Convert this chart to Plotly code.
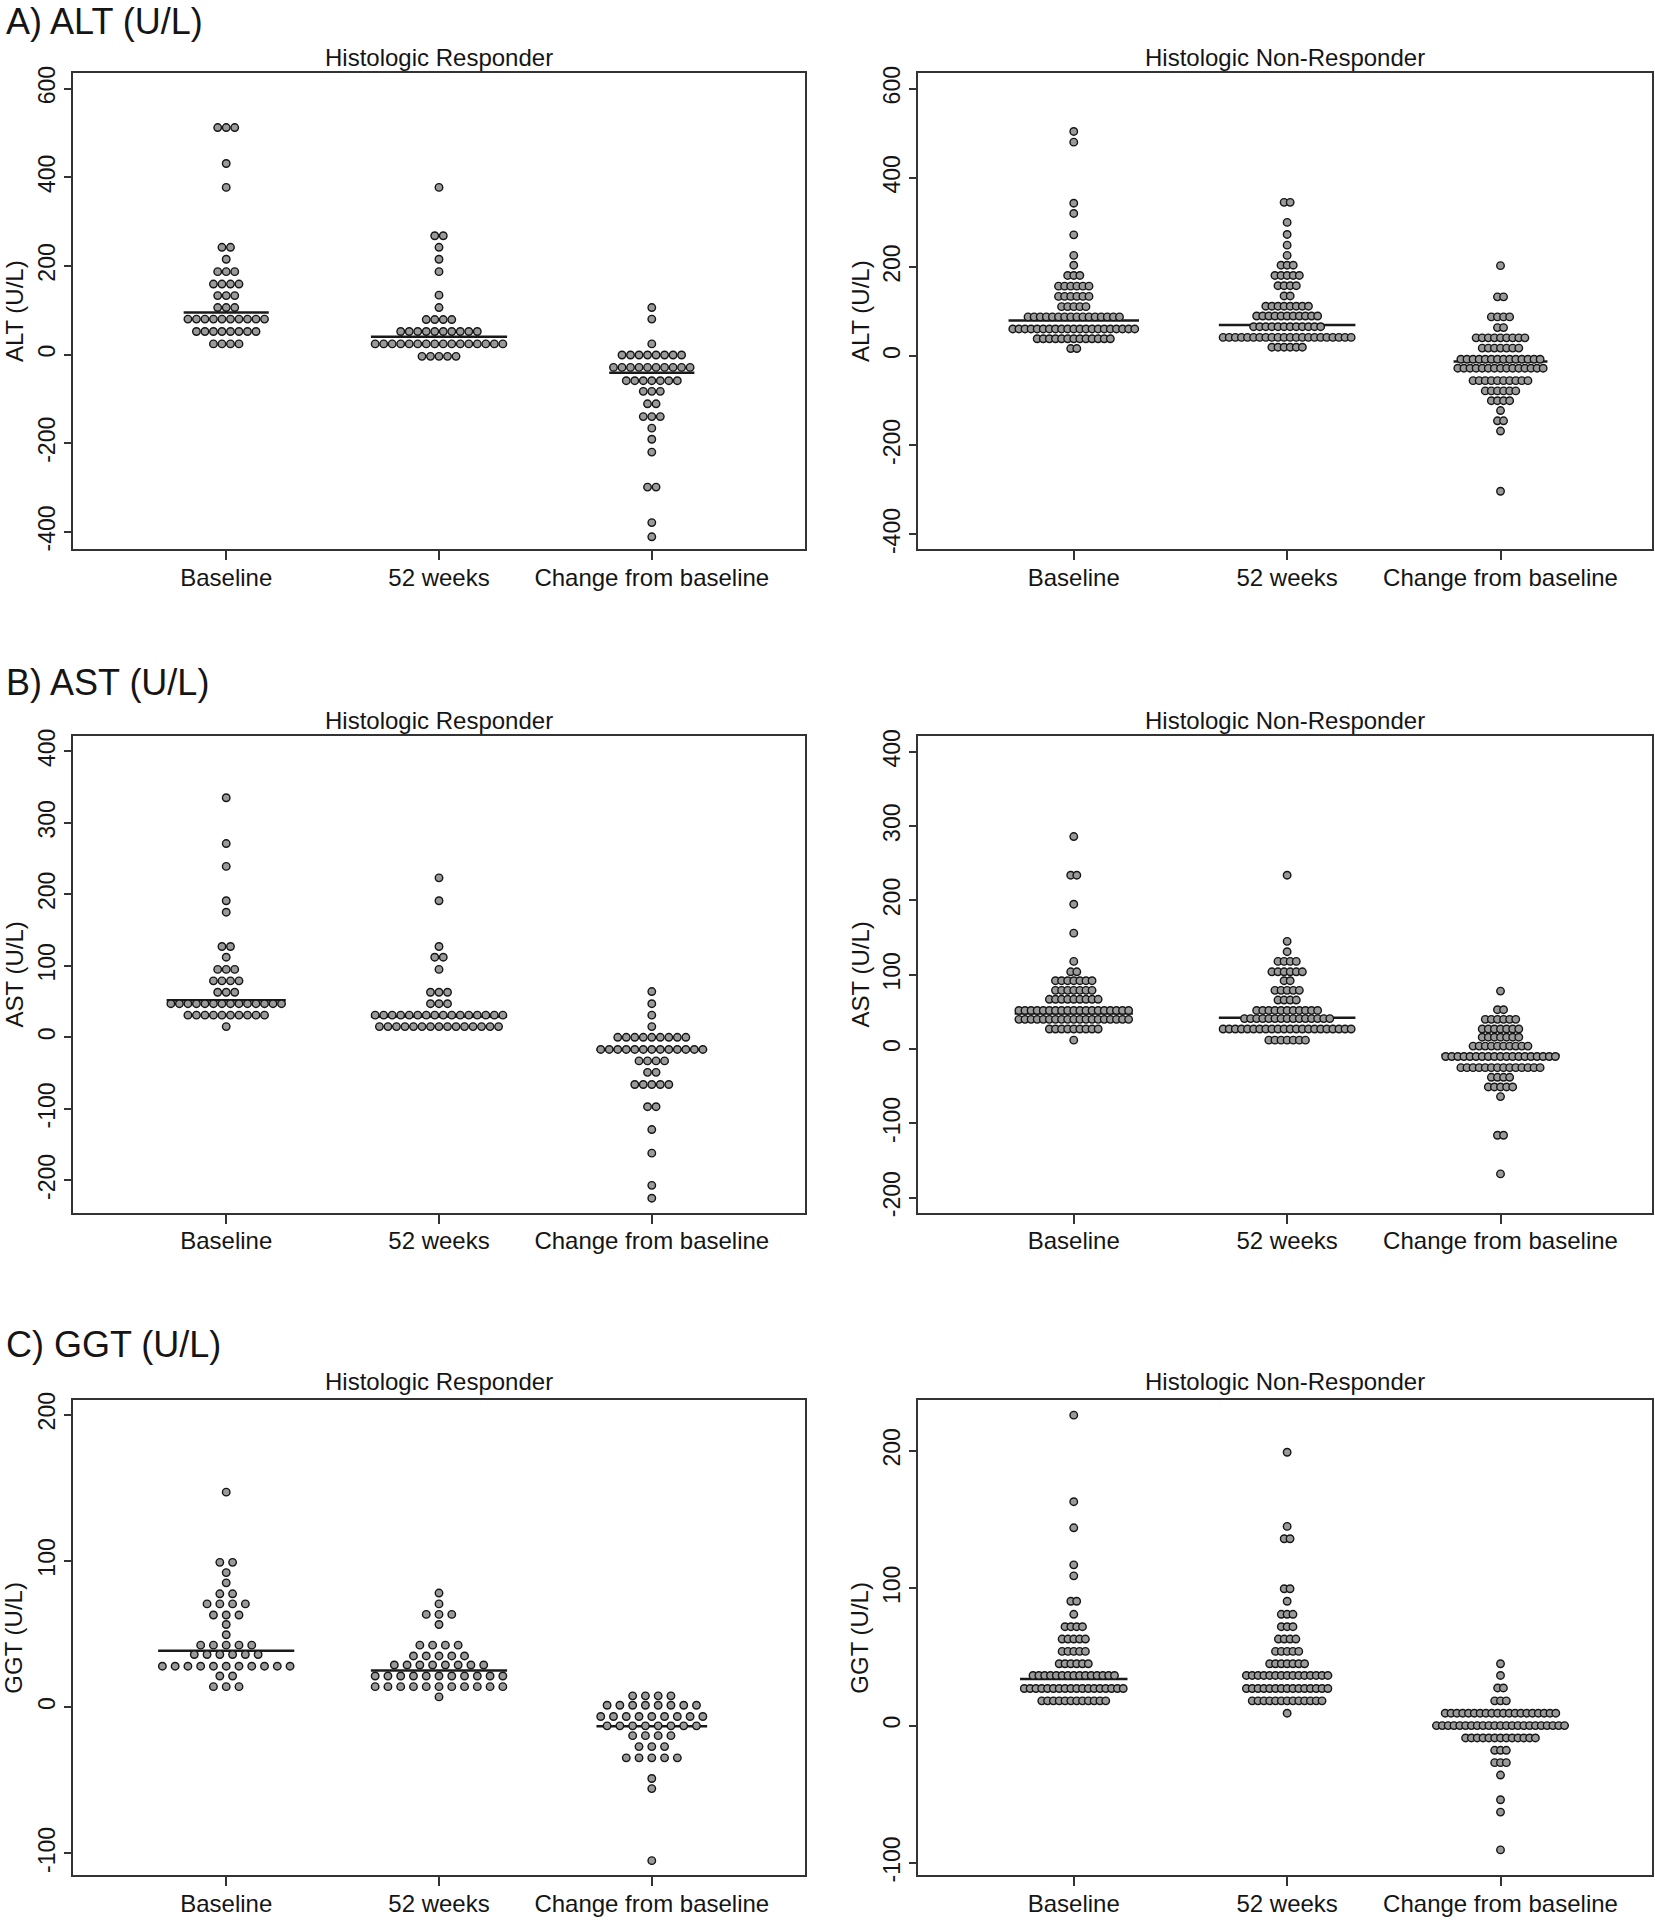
import plotly.graph_objects as go

categories = ['Baseline', '52 weeks', 'Change from baseline']

# Dot plots: each group is stored as dot-row levels (U/L) and the number of dots per row

# A) ALT - histologic responder
alt_r_base_y = [512, 431, 377, 242, 215, 187, 159, 133, 106, 80, 52, 24]
alt_r_base_n = [3, 1, 1, 2, 1, 3, 4, 3, 3, 10, 8, 4]
alt_r_wk52_y = [377, 268, 242, 215, 187, 134, 106, 79, 52, 24, -4]
alt_r_wk52_n = [1, 2, 1, 1, 1, 1, 1, 4, 10, 16, 5]
alt_r_chg_y = [106, 80, 24, -1, -29, -59, -83, -111, -140, -166, -191, -220, -299, -379, -411]
alt_r_chg_n = [1, 1, 1, 8, 10, 7, 3, 2, 3, 1, 1, 1, 2, 1, 1]
alt_r_median = [95, 40, -41]

# A) ALT - histologic non-responder
alt_n_base_y = [504, 480, 343, 320, 272, 226, 204, 181, 157, 134, 111, 88, 61, 39, 17]
alt_n_base_n = [1, 1, 1, 1, 1, 1, 1, 3, 6, 6, 5, 16, 21, 13, 2]
alt_n_wk52_y = [345, 300, 273, 249, 226, 204, 181, 158, 135, 112, 90, 66, 42, 20]
alt_n_wk52_n = [2, 1, 1, 1, 1, 3, 5, 4, 2, 8, 11, 12, 22, 6]
alt_n_chg_y = [203, 133, 88, 64, 41, 18, -7, -27, -55, -78, -100, -122, -145, -168, -303]
alt_n_chg_n = [1, 2, 4, 2, 9, 7, 14, 15, 10, 6, 4, 1, 2, 1, 1]
alt_n_median = [80, 70, -12]

# B) AST - histologic responder
ast_r_base_y = [335, 271, 239, 191, 175, 127, 112, 95, 79, 63, 47, 31, 15]
ast_r_base_n = [1, 1, 1, 1, 1, 2, 1, 3, 4, 3, 14, 10, 1]
ast_r_wk52_y = [223, 191, 127, 112, 95, 63, 47, 31, 15]
ast_r_wk52_n = [1, 1, 1, 2, 1, 3, 3, 16, 15]
ast_r_chg_y = [64, 47, 31, 15, 0, -17, -33, -49, -66, -97, -129, -162, -207, -225]
ast_r_chg_n = [1, 1, 1, 1, 9, 13, 4, 2, 5, 2, 1, 1, 1, 1]
ast_r_median = [52, 29, -17]

# B) AST - histologic non-responder
ast_n_base_y = [286, 234, 195, 156, 118, 104, 92, 79, 67, 52, 40, 27, 12]
ast_n_base_n = [1, 2, 1, 1, 1, 2, 7, 7, 9, 19, 19, 9, 1]
ast_n_wk52_y = [234, 145, 131, 118, 104, 92, 79, 66, 52, 41, 27, 12]
ast_n_wk52_n = [1, 1, 1, 4, 6, 2, 5, 4, 11, 15, 22, 7]
ast_n_chg_y = [78, 53, 40, 27, 16, 4, -10, -25, -38, -51, -64, -116, -168]
ast_n_chg_n = [1, 2, 6, 7, 7, 10, 19, 14, 4, 5, 1, 2, 1]
ast_n_median = [48, 42, -8]

# C) GGT - histologic responder
ggt_r_base_y = [147, 99, 92, 85, 77.5, 70.6, 63, 56.5, 49.5, 42.4, 36, 28, 21.3, 14]
ggt_r_base_n = [1, 2, 1, 1, 2, 4, 3, 1, 1, 5, 6, 11, 2, 3]
ggt_r_wk52_y = [78, 70.6, 63.4, 56.5, 42.4, 35, 28.8, 21.3, 14, 7]
ggt_r_wk52_n = [1, 1, 3, 1, 4, 5, 8, 11, 11, 1]
ggt_r_chg_y = [7.7, 1.3, -6.4, -12.8, -19.5, -27, -34.7, -48.8, -55.7, -105]
ggt_r_chg_n = [4, 8, 9, 8, 4, 3, 5, 1, 1, 1]
ggt_r_median = [38.5, 25, -13]

# C) GGT - histologic non-responder
ggt_n_base_y = [226, 163, 144, 117, 109, 90.5, 81, 72, 63, 54, 45, 36.5, 27, 18]
ggt_n_base_n = [1, 1, 1, 1, 1, 2, 1, 4, 5, 5, 6, 15, 18, 12]
ggt_n_wk52_y = [199, 145, 136, 99.6, 90.5, 81, 72, 63, 54, 45, 36.5, 27, 18, 9]
ggt_n_wk52_n = [1, 1, 2, 2, 1, 3, 3, 4, 5, 7, 15, 15, 13, 1]
ggt_n_chg_y = [45, 36.5, 27.4, 18, 9, 0, -9, -18, -27, -36, -54, -63, -90.5]
ggt_n_chg_n = [1, 1, 2, 3, 20, 23, 13, 3, 3, 1, 1, 1, 1]
ggt_n_median = [34, 36.5, 0]

W, H = 1655, 1920
FONT = 'Liberation Sans, Arial, sans-serif'
TXT = '#151515'
ROW_SPREAD = 0.60  # width (x units) used by the widest dot row in a panel

panels = [
    dict(groups=[(alt_r_base_y, alt_r_base_n), (alt_r_wk52_y, alt_r_wk52_n), (alt_r_chg_y, alt_r_chg_n)],
         medians=alt_r_median, yrange=[-438, 634], yticks=[-400, -200, 0, 200, 400, 600], ytitle='ALT (U/L)'),
    dict(groups=[(alt_n_base_y, alt_n_base_n), (alt_n_wk52_y, alt_n_wk52_n), (alt_n_chg_y, alt_n_chg_n)],
         medians=alt_n_median, yrange=[-432, 634], yticks=[-400, -200, 0, 200, 400, 600], ytitle='ALT (U/L)'),
    dict(groups=[(ast_r_base_y, ast_r_base_n), (ast_r_wk52_y, ast_r_wk52_n), (ast_r_chg_y, ast_r_chg_n)],
         medians=ast_r_median, yrange=[-245, 421], yticks=[-200, -100, 0, 100, 200, 300, 400], ytitle='AST (U/L)'),
    dict(groups=[(ast_n_base_y, ast_n_base_n), (ast_n_wk52_y, ast_n_wk52_n), (ast_n_chg_y, ast_n_chg_n)],
         medians=ast_n_median, yrange=[-220, 421], yticks=[-200, -100, 0, 100, 200, 300, 400], ytitle='AST (U/L)'),
    dict(groups=[(ggt_r_base_y, ggt_r_base_n), (ggt_r_wk52_y, ggt_r_wk52_n), (ggt_r_chg_y, ggt_r_chg_n)],
         medians=ggt_r_median, yrange=[-115, 210], yticks=[-100, 0, 100, 200], ytitle='GGT (U/L)'),
    dict(groups=[(ggt_n_base_y, ggt_n_base_n), (ggt_n_wk52_y, ggt_n_wk52_n), (ggt_n_chg_y, ggt_n_chg_n)],
         medians=ggt_n_median, yrange=[-109, 237], yticks=[-100, 0, 100, 200], ytitle='GGT (U/L)'),
]

# pixel frames of the plot boxes (page body margin is removed below)
col_px = [(73, 805), (918, 1652)]
row_px = [(66, 545), (734, 1214), (1403, 1882)]
col_xrange = [[0.28, 3.72], [0.27, 3.71]]

fig = go.Figure()
layout = {}

for i, p in enumerate(panels):
    r, c = divmod(i, 2)
    sfx = '' if i == 0 else str(i + 1)
    xref, yref = 'x' + sfx, 'y' + sfx

    max_n = max(max(n) for _, n in p['groups'])
    step = ROW_SPREAD / (max_n - 1)

    # median lines first so the dots sit on top
    lx, ly = [], []
    for g, ((ys, ns), med) in enumerate(zip(p['groups'], p['medians'])):
        half = (max(ns) - 1) / 2 * step + 0.02
        lx += [g + 1 - half, g + 1 + half, None]
        ly += [med, med, None]
    fig.add_trace(go.Scatter(x=lx, y=ly, mode='lines', xaxis=xref, yaxis=yref,
                             line=dict(color='#1a1a1a', width=2.5), hoverinfo='skip'))

    dx, dy = [], []
    for g, (ys, ns) in enumerate(p['groups']):
        for yv, n in zip(ys, ns):
            for j in range(n):
                dx.append(g + 1 + (j - (n - 1) / 2) * step)
                dy.append(yv)
    fig.add_trace(go.Scatter(x=dx, y=dy, mode='markers', xaxis=xref, yaxis=yref,
                             marker=dict(size=7.5, color='#9a9a9a',
                                         line=dict(color='#151515', width=1.4))))

    x0, x1 = col_px[c]
    t, b = row_px[r]
    layout['xaxis' + sfx] = dict(
        domain=[x0 / W, x1 / W], anchor=yref, range=col_xrange[c],
        tickvals=[1, 2, 3], ticktext=categories, ticks='outside', ticklen=9,
        tickwidth=1.5, tickcolor='#333', showline=True, mirror=True,
        linecolor='#333', linewidth=2, showgrid=False, zeroline=False,
        ticklabelstandoff=-3,
        tickfont=dict(size=24, color=TXT, family=FONT),
    )
    layout['yaxis' + sfx] = dict(
        domain=[1 - b / H, 1 - t / H], anchor=xref, range=p['yrange'],
        tickvals=p['yticks'], ticktext=[str(v) for v in p['yticks']],
        tickangle=-90, ticks='outside', ticklen=7, tickwidth=1.5, tickcolor='#333',
        showline=True, mirror=True, linecolor='#333', linewidth=2,
        showgrid=False, zeroline=False,
        tickfont=dict(size=23, color=TXT, family=FONT),
    )

annotations = []
row_titles = ['A) ALT (U/L)', 'B) AST (U/L)', 'C) GGT (U/L)']
row_title_y = [14, 680, 1347]
sub_y = [50, 718, 1384]
sub_titles = ['Histologic Responder', 'Histologic Non-Responder']
ytitle_x = [14, 860]

for r in range(3):
    annotations.append(dict(text=row_titles[r], x=4 / W, y=1 - row_title_y[r] / H,
                            xref='paper', yref='paper', xanchor='left', yanchor='middle',
                            showarrow=False, font=dict(size=36, color=TXT, family=FONT)))
    t, b = row_px[r]
    for c in range(2):
        x0, x1 = col_px[c]
        annotations.append(dict(text=sub_titles[c], x=(x0 + x1) / 2 / W, y=1 - sub_y[r] / H,
                                xref='paper', yref='paper', xanchor='center', yanchor='middle',
                                showarrow=False, font=dict(size=24, color=TXT, family=FONT)))
        annotations.append(dict(text=panels[r * 2 + c]['ytitle'], x=ytitle_x[c] / W,
                                y=1 - (t + b) / 2 / H, xref='paper', yref='paper',
                                xanchor='center', yanchor='middle', textangle=-90,
                                showarrow=False, font=dict(size=24, color=TXT, family=FONT)))

fig.update_layout(
    **layout,
    annotations=annotations,
    width=W, height=H,
    margin=dict(l=0, r=0, t=0, b=0),
    paper_bgcolor='white', plot_bgcolor='white',
    showlegend=False,
    font=dict(family=FONT, color=TXT),
)

# drop the default page margin so the figure fills the window exactly
fig.write_html("out.html", config={'displayModeBar': False},
               post_script="document.body.style.margin = '0';")
